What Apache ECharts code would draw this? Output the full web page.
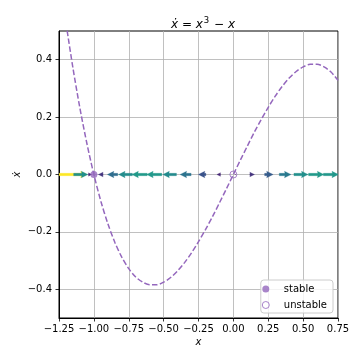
<!DOCTYPE html>
<html>
<head>
<meta charset="utf-8">
<script src="https://cdn.jsdelivr.net/npm/echarts@6/dist/echarts.min.js"></script>
<style>html,body{margin:0;padding:0;background:#fff}#c{width:360px;height:360px}</style>
</head>
<body>
<div id="c"></div>
<script>
// Curve x values and plotted ẋ values
const curveX = [-1.20,-1.15,-1.10,-1.05,-1.00,-0.95,-0.90,-0.85,-0.80,-0.75,-0.70,-0.65,-0.60,-0.55,-0.50,-0.45,-0.40,-0.35,-0.30,-0.25,-0.20,-0.15,-0.10,-0.05,0.00,0.05,0.10,0.15,0.20,0.25,0.30,0.35,0.40,0.45,0.50,0.55,0.60,0.65,0.70,0.75];
const curveY = [0.528,0.371,0.231,0.108,0.000,-0.093,-0.171,-0.236,-0.288,-0.328,-0.357,-0.375,-0.384,-0.384,-0.375,-0.359,-0.336,-0.307,-0.273,-0.234,-0.192,-0.147,-0.099,-0.050,0.000,0.050,0.099,0.147,0.192,0.234,0.273,0.307,0.336,0.359,0.375,0.384,0.384,0.375,0.357,0.328];
// Flow arrows along the line: positions and horizontal components
const arrowX = [-1.250,-1.145,-1.039,-0.934,-0.829,-0.724,-0.618,-0.513,-0.408,-0.303,-0.197,-0.092,0.013,0.118,0.224,0.329,0.434,0.539,0.645,0.750];
const arrowU = [0.703,0.356,0.083,-0.119,-0.259,-0.345,-0.382,-0.378,-0.340,-0.275,-0.189,-0.091,0.013,0.116,0.213,0.293,0.352,0.382,0.377,0.328];
// Fixed points
const stablePts = [[-1.0, 0.0]];
const unstablePts = [[0.0, 0.0]];
// Ticks
const xTicks = [-1.25,-1.00,-0.75,-0.50,-0.25,0.00,0.25,0.50,0.75];
const yTicks = [-0.4,-0.2,0.0,0.2,0.4];

const ARROW_SCALE = 0.287; // data units per unit of u
const PURPLE = '#9467bd';
const FONT = 'DejaVu Sans';

const viridis = ['#440154','#482475','#414487','#355f8d','#2a788e','#21918c','#22a884','#44bf70','#7ad151','#bddf26','#fde725'];
function hex(c){return [parseInt(c.slice(1,3),16),parseInt(c.slice(3,5),16),parseInt(c.slice(5,7),16)];}
function vcol(t){
  t=Math.max(0,Math.min(1,t));
  const p=t*10, i=Math.min(9,Math.floor(p)), f=p-i;
  const a=hex(viridis[i]), b=hex(viridis[i+1]);
  return 'rgb('+a.map((v,k)=>Math.round(v+(b[k]-v)*f)).join(',')+')';
}
const mags = arrowU.map(Math.abs);
const mMin = Math.min(...mags), mMax = Math.max(...mags);

const fmt = v => (v<0?'\u2212':'') + Math.abs(v).toFixed(2);
const fmtY = v => (v<0?'\u2212':'') + Math.abs(v).toFixed(1);

const chart = echarts.init(document.getElementById('c'), null, {renderer:'canvas'});
chart.setOption({
  animation:false,
  backgroundColor:'#fff',
  title:{
    text:'{i|ẋ}{n| = }{i|x}{s|3}{n| − }{i|x}',
    left:198, top:11, textAlign:'center',
    textStyle:{fontFamily:FONT, fontSize:12, fontWeight:'normal', color:'#000',
      rich:{
        i:{fontFamily:FONT, fontSize:12, fontStyle:'italic', color:'#000', lineHeight:15, verticalAlign:'bottom'},
        n:{fontFamily:FONT, fontSize:12, color:'#000', lineHeight:15, verticalAlign:'bottom'},
        s:{fontFamily:FONT, fontSize:8.5, color:'#000', lineHeight:15, verticalAlign:'top', padding:[0,1,0,1]}
      }}
  },
  grid:{left:59, right:22, top:31, bottom:42, show:true, borderColor:'#000', borderWidth:1, backgroundColor:'transparent', containLabel:false, outerBoundsMode:'none'},
  legend:{
    orient:'vertical', right:27, bottom:47,
    padding:[3,6,2,1], itemGap:4, itemWidth:26, itemHeight:7,
    backgroundColor:'rgba(255,255,255,0.8)', borderColor:'#cccccc', borderWidth:1, borderRadius:3,
    textStyle:{fontFamily:FONT, fontSize:10, color:'#000', lineHeight:12},
    selectedMode:false,
    data:[
      {name:'stable', icon:'circle', itemStyle:{color:PURPLE, borderWidth:0}},
      {name:'unstable', icon:'circle', itemStyle:{color:'rgba(0,0,0,0)', borderColor:PURPLE, borderWidth:1}}
    ]
  },
  xAxis:{
    type:'value', min:-1.25, max:0.75, interval:0.25,
    name:'x', nameLocation:'middle', nameGap:19, nameMoveOverlap:false,
    nameTextStyle:{fontFamily:FONT, fontSize:10, fontStyle:'italic', color:'#000'},
    axisLine:{show:true, onZero:false, lineStyle:{color:'#000', width:1}},
    axisTick:{show:true, length:3.5, lineStyle:{color:'#000', width:0.8}, customValues:xTicks},
    axisLabel:{fontFamily:FONT, fontSize:10, color:'#000', margin:6, formatter:fmt, customValues:xTicks},
    splitLine:{show:true, lineStyle:{color:'#b0b0b0', width:0.8}}
  },
  yAxis:{
    type:'value', min:-0.5, max:0.5, splitNumber:5,
    name:'ẋ', nameLocation:'middle', nameGap:37, nameRotate:90, nameMoveOverlap:false,
    nameTextStyle:{fontFamily:FONT, fontSize:10, fontStyle:'italic', color:'#000'},
    axisLine:{show:true, onZero:false, lineStyle:{color:'#000', width:1}},
    axisTick:{show:true, length:3.5, lineStyle:{color:'#000', width:0.8}, customValues:yTicks},
    axisLabel:{fontFamily:FONT, fontSize:10, color:'#000', margin:7, formatter:fmtY, customValues:yTicks},
    splitLine:{show:true, lineStyle:{color:'#b0b0b0', width:0.8}}
  },
  series:[
    {
      type:'custom', name:'flow', z:3, clip:true,
      data: arrowX.map((x,i)=>[x, arrowU[i]]),
      renderItem:function(params, api){
        const x=api.value(0), u=api.value(1);
        const p0=api.coord([x,0]), p1=api.coord([x+u*ARROW_SCALE,0]);
        const L=p1[0]-p0[0], d=L<0?-1:1, len=Math.abs(L);
        let hl=6.5, ha=6, hw=3.2, sw=1.2;
        const full=hl;
        if(len<full){const f=len/full; hl*=f; ha*=f; hw*=f; sw*=f;}
        const y=p0[1], x0=p0[0], xt=p1[0];
        const xb=xt-d*hl, xa=xt-d*ha;
        const pts=[[x0,y-sw],[xa,y-sw],[xb,y-hw],[xt,y],[xb,y+hw],[xa,y+sw],[x0,y+sw]];
        const c=vcol((Math.abs(u)-mMin)/(mMax-mMin));
        return {type:'polygon', shape:{points:pts}, style:{fill:c, stroke:c, lineWidth:0.3}};
      }
    },
    {
      type:'line', name:'curve', z:4, clip:true, smooth:0.3,
      data: curveX.map((x,i)=>[x, curveY[i]]),
      showSymbol:false, symbol:'none',
      lineStyle:{color:PURPLE, width:1.5, type:[5.5,2.4]}
    },
    {
      type:'scatter', name:'stable', z:5,
      data: stablePts, symbol:'circle', symbolSize:7,
      itemStyle:{color:PURPLE, borderWidth:0}
    },
    {
      type:'scatter', name:'unstable', z:5,
      data: unstablePts, symbol:'circle', symbolSize:7,
      itemStyle:{color:'rgba(0,0,0,0)', borderColor:PURPLE, borderWidth:1}
    }
  ]
});
</script>
</body>
</html>
